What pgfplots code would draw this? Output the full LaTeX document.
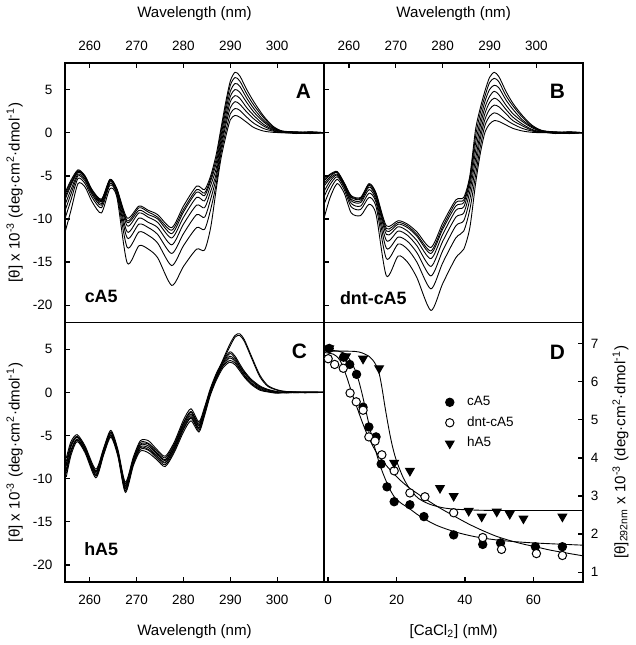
\documentclass[border=0pt]{standalone}
\usepackage{fontspec}
\setmainfont{Liberation Sans}
\usepackage{pgfplots}
\usepackage{pgfplotstable}
\pgfplotsset{compat=1.18}

% panel A: cA5 spectra, one column per titration point
\pgfplotstableread{
x a0 a1 a2 a3 a4 a5 a6 a7
254.7 -7.0 -7.2 -7.5 -7.8 -8.4 -9.1 -10.0 -11.6
256 -5.5 -5.7 -5.9 -6.1 -6.6 -7.1 -7.8 -9.0
257.5 -4.3 -4.4 -4.5 -4.6 -4.8 -5.0 -5.3 -5.9
259 -5.0 -5.1 -5.1 -5.2 -5.4 -5.6 -5.9 -6.3
260.5 -6.6 -6.7 -6.7 -6.9 -7.0 -7.2 -7.5 -8.0
262.5 -7.7 -7.8 -7.9 -8.0 -8.2 -8.4 -8.7 -9.3
264.3 -5.4 -5.5 -5.5 -5.6 -5.7 -5.9 -6.1 -6.5
265.8 -6.5 -6.6 -6.6 -6.7 -6.8 -7.0 -7.2 -7.5
268 -9.9 -10.2 -10.4 -10.8 -11.5 -12.2 -13.3 -15.1
270.5 -8.5 -8.7 -9.0 -9.3 -9.9 -10.6 -11.5 -13.1
272.5 -9.0 -9.2 -9.5 -9.8 -10.4 -11.0 -11.9 -13.5
274.5 -9.5 -9.8 -10.0 -10.4 -11.0 -11.8 -12.8 -14.5
277.5 -11.0 -11.3 -11.7 -12.2 -13.0 -14.0 -15.4 -17.7
280 -8.5 -8.9 -9.2 -9.8 -10.6 -11.7 -13.1 -15.5
282.8 -6.2 -6.6 -6.9 -7.5 -8.4 -9.5 -11.0 -13.5
284.5 -6.6 -7.0 -7.3 -7.9 -8.7 -9.8 -11.2 -13.6
285.8 -5.0 -5.3 -5.6 -6.1 -6.8 -7.7 -8.9 -11.0
287 -2.5 -3.0 -3.5 -4.1 -4.7 -5.2 -5.9 -6.5
288 0.5 0.1 -0.4 -0.9 -1.4 -1.9 -2.4 -3.0
289 3.5 3.0 2.5 1.9 1.3 0.8 0.1 -0.5
290 6.0 5.5 4.8 4.2 3.6 2.9 2.2 1.5
291 7.0 6.4 5.7 5.0 4.3 3.6 2.8 2.0
292 6.6 6.0 5.4 4.7 4.0 3.3 2.6 1.8
293.5 5.0 4.5 4.0 3.5 2.9 2.4 1.8 1.2
295 3.6 3.2 2.8 2.4 2.0 1.6 1.1 0.6
297 2.0 1.8 1.5 1.3 1.0 0.8 0.5 0.2
299 0.8 0.7 0.6 0.5 0.4 0.3 0.2 0.05
301 0.2 0.2 0.15 0.1 0.1 0.05 0.0 0.0
304 0.0 0.1 0.0 -0.1 0.0 0.1 0.0 0.0
307 -0.1 0.0 0.1 0.0 -0.1 0.0 0.1 0.0
310 0.0 0.0 0.0 0.0 0.0 0.0 0.0 0.0
}\tabA

% panel B: dnt-cA5 spectra
\pgfplotstableread{
x b0 b1 b2 b3 b4 b5 b6 b7
254.7 -5.4 -5.6 -5.9 -6.2 -6.8 -7.4 -8.3 -9.9
256 -4.8 -4.9 -5.1 -5.3 -5.6 -6.0 -6.6 -7.5
257.5 -4.5 -4.6 -4.6 -4.8 -4.9 -5.1 -5.4 -5.9
259 -5.8 -5.9 -5.9 -6.0 -6.2 -6.3 -6.6 -7.0
260.5 -7.3 -7.4 -7.5 -7.7 -7.9 -8.2 -8.6 -9.3
262.5 -7.5 -7.6 -7.7 -7.9 -8.1 -8.5 -8.9 -9.6
264.3 -5.9 -6.0 -6.1 -6.3 -6.6 -7.0 -7.5 -8.3
265.8 -7.0 -7.1 -7.3 -7.5 -7.8 -8.1 -8.6 -9.5
268 -10.8 -11.1 -11.4 -11.8 -12.5 -13.4 -14.6 -16.6
270.5 -10.2 -10.4 -10.6 -10.9 -11.4 -12.1 -12.9 -14.3
272.5 -10.6 -10.8 -11.0 -11.4 -11.9 -12.6 -13.5 -15.0
274.5 -11.5 -11.8 -12.0 -12.5 -13.1 -13.9 -15.0 -16.8
277.5 -13.3 -13.7 -14.0 -14.6 -15.5 -16.6 -18.1 -20.6
280 -10.5 -10.9 -11.2 -11.8 -12.6 -13.7 -15.1 -17.5
282.8 -7.8 -8.1 -8.5 -9.0 -9.8 -10.8 -12.2 -14.5
284.5 -7.5 -7.8 -8.1 -8.6 -9.3 -10.2 -11.4 -13.5
285.8 -5.0 -5.3 -5.6 -6.1 -6.8 -7.7 -8.9 -11.0
287 0.3 -0.5 -1.3 -2.2 -3.1 -4.0 -5.0 -6.0
288 2.8 2.2 1.4 0.7 -0.1 -0.8 -1.7 -2.5
289 4.8 4.2 3.6 2.9 2.2 1.5 0.8 0.0
290 6.4 5.8 5.0 4.2 3.5 2.7 1.9 1.0
291 7.0 6.3 5.5 4.8 4.0 3.2 2.3 1.4
292 6.5 5.9 5.2 4.4 3.7 3.0 2.1 1.3
293.5 4.8 4.3 3.8 3.2 2.7 2.2 1.5 0.9
295 3.4 3.1 2.7 2.2 1.8 1.4 1.0 0.5
297 2.0 1.8 1.5 1.3 1.0 0.8 0.5 0.2
299 0.9 0.8 0.7 0.6 0.4 0.3 0.2 0.05
301 0.3 0.25 0.2 0.15 0.1 0.1 0.05 0.0
304 0.0 0.1 0.0 -0.1 0.0 0.1 0.0 0.0
307 -0.1 0.0 0.1 0.0 -0.1 0.0 0.1 0.0
310 0.0 0.0 0.0 0.0 0.0 0.0 0.0 0.0
}\tabB

% panel C: hA5 spectra (c6, c7 = the two high curves)
\pgfplotstableread{
x c0 c1 c2 c3 c4 c5 c6 c7
255 -9.8 -9.4 -8.9 -8.5 -8.0 -7.6 -8.3 -9.1
256 -7.3 -7.0 -6.7 -6.3 -6.0 -5.7 -6.2 -6.8
257.3 -5.7 -5.5 -5.4 -5.2 -5.1 -4.9 -5.1 -5.5
259 -7.0 -6.8 -6.7 -6.5 -6.4 -6.2 -6.4 -6.8
261.3 -9.9 -9.7 -9.5 -9.3 -9.1 -8.9 -9.2 -9.6
263 -7.2 -7.0 -6.9 -6.7 -6.6 -6.4 -6.6 -7.0
264.5 -5.2 -5.0 -4.9 -4.7 -4.6 -4.4 -4.6 -5.0
266 -7.4 -7.2 -7.1 -6.9 -6.8 -6.6 -6.8 -7.2
267.6 -11.6 -11.4 -11.1 -10.9 -10.6 -10.4 -10.8 -11.2
269.3 -8.5 -8.3 -8.1 -7.9 -7.7 -7.5 -7.8 -8.2
270.8 -6.8 -6.6 -6.3 -6.1 -5.8 -5.6 -6.0 -6.4
272.5 -7.0 -6.7 -6.4 -6.2 -5.9 -5.6 -6.0 -6.6
274.3 -7.8 -7.6 -7.3 -7.1 -6.8 -6.6 -7.0 -7.4
276.1 -8.6 -8.4 -8.1 -7.9 -7.6 -7.4 -7.8 -8.2
278 -7.0 -6.8 -6.5 -6.3 -6.0 -5.8 -6.2 -6.6
280 -4.6 -4.3 -4.0 -3.8 -3.5 -3.2 -3.6 -4.2
281.6 -3.3 -3.0 -2.7 -2.5 -2.2 -1.9 -2.3 -2.9
283.3 -4.6 -4.4 -4.1 -3.9 -3.6 -3.4 -3.8 -4.2
284.5 -2.7 -2.5 -2.3 -2.1 -1.9 -1.7 -2.0 -2.4
285.7 -0.4 -0.2 -0.1 0.1 0.2 0.4 0.2 -0.2
287 1.4 1.6 1.7 1.9 2.0 2.2 2.0 1.6
288.5 2.9 3.1 3.2 3.4 3.5 3.7 3.9 3.7
289.9 3.5 3.7 4.0 4.2 4.5 4.7 5.6 5.3
291 3.2 3.4 3.6 3.8 4.0 4.2 6.6 6.4
292 2.5 2.7 2.8 3.0 3.1 3.3 6.8 6.6
293 1.75 1.9 2.0 2.2 2.3 2.45 6.1 5.9
294.5 0.9 1.0 1.1 1.3 1.4 1.5 4.2 4.0
296.3 0.25 0.35 0.45 0.55 0.65 0.75 2.0 1.8
298 0.05 0.1 0.15 0.25 0.3 0.35 0.8 0.7
300 -0.1 -0.05 0 0 0.05 0.1 0.3 0.25
302 0.05 -0.05 0 0.1 0 -0.05 0.1 0.05
306 0 0.05 -0.05 0 0.05 0 0 0
310 0 0 0 0 0 0 0 0
}\tabC

\newcommand{\tk}{\fontsize{6.8}{8}\selectfont}
\newcommand{\lb}{\fontsize{7.6}{9}\selectfont}

\pgfplotsset{
  panel/.style={
    width=130.5pt, height=130.75pt, scale only axis,
    line width=0.9pt,
    tick align=inside, major tick length=2.5pt,
    tick style={line width=0.7pt, black},
    ticklabel style={font=\tk},
    label style={font=\lb},
    /pgf/number format/assume math mode=true,
    cycle list={{black, no markers}},
    every axis plot/.append style={line width=0.45pt, black},
  },
  spec/.style={
    panel, xmin=254.7, xmax=310, ymin=-22, ymax=8.1,
    xtick={260,270,...,300}, ytick={-20,-15,...,5},
    every axis plot/.append style={smooth, tension=0.45},
  },
}

\begin{document}
\begin{tikzpicture}

\begin{axis}[spec, at={(0pt,130.75pt)}, anchor=south west,
  xtick pos=right, xticklabel pos=right, ytick pos=left,
  xticklabel shift=2.5pt, yticklabel shift=2.5pt,
  xlabel={Wavelength (nm)}, xlabel style={yshift=3pt},
  ylabel={[θ] x 10\textsuperscript{-3} (deg·cm\textsuperscript{2}·dmol\textsuperscript{-1})},
  ylabel style={yshift=-2pt}]
\pgfplotsinvokeforeach{a0,a1,a2,a3,a4,a5,a6,a7}{\addplot table[x=x,y=#1]{\tabA};}
\node[font=\bfseries\fontsize{10.5}{12}\selectfont] at (rel axis cs:0.92,0.89) {A};
\node[font=\bfseries\fontsize{9}{11}\selectfont] at (rel axis cs:0.14,0.10) {cA5};
\end{axis}

\begin{axis}[spec, at={(130.5pt,130.75pt)}, anchor=south west,
  xtick pos=right, xticklabel pos=right, ytick pos=left, yticklabels={},
  xticklabel shift=2.5pt,
  xlabel={Wavelength (nm)}, xlabel style={yshift=3pt}]
\pgfplotsinvokeforeach{b0,b1,b2,b3,b4,b5,b6,b7}{\addplot table[x=x,y=#1]{\tabB};}
\node[font=\bfseries\fontsize{10.5}{12}\selectfont] at (rel axis cs:0.90,0.89) {B};
\node[font=\bfseries\fontsize{9}{11}\selectfont] at (rel axis cs:0.19,0.095) {dnt-cA5};
\end{axis}

\begin{axis}[spec, at={(0pt,0pt)}, anchor=south west,
  xtick pos=left, ytick pos=left,
  xticklabel shift=2.5pt, yticklabel shift=2.5pt,
  xlabel={Wavelength (nm)}, xlabel style={yshift=-3pt},
  ylabel={[θ] x 10\textsuperscript{-3} (deg·cm\textsuperscript{2}·dmol\textsuperscript{-1})},
  ylabel style={yshift=-2pt}]
\pgfplotsinvokeforeach{c0,c1,c2,c3,c4,c5,c6,c7}{\addplot table[x=x,y=#1]{\tabC};}
\node[font=\bfseries\fontsize{10.5}{12}\selectfont] at (rel axis cs:0.905,0.89) {C};
\node[font=\bfseries\fontsize{9}{11}\selectfont] at (rel axis cs:0.14,0.126) {hA5};
\end{axis}

\begin{axis}[panel, at={(130.5pt,0pt)}, anchor=south west,
  xmin=-1.2, xmax=74.6, ymin=0.74, ymax=7.55,
  xtick={0,20,40,60}, ytick={1,2,...,7},
  xtick pos=left, ytick pos=right, yticklabel pos=right,
  xticklabel shift=2.5pt, clip=false,
  xlabel={[CaCl\textsubscript{2}] (mM)}, xlabel style={yshift=-3pt},
  ylabel={[θ]\textsubscript{292nm} x 10\textsuperscript{-3} (deg·cm\textsuperscript{2}·dmol\textsuperscript{-1})},
  legend style={draw=none, fill=none, font=\tk, inner sep=0pt,
    at={(axis description cs:0.465,0.735)}, anchor=north west,
    /tikz/every odd column/.append style={column sep=4.5pt}},
  legend cell align=left]
% fitted curves
\addplot[smooth, forget plot] coordinates {(-1,6.82) (0,6.82) (3,6.8) (5,6.72) (6.5,6.55) (8,6.28) (9,6.0) (10,5.65) (11,5.25) (12,4.85) (13,4.48) (14,4.15) (15,3.85) (16,3.6) (17,3.38) (18,3.18) (19.5,2.96) (21.5,2.8) (23.6,2.68) (26,2.52) (28.5,2.38) (32,2.22) (36.7,2.07) (41,1.97) (45,1.9) (50,1.84) (55,1.8) (60,1.77) (67,1.74) (74.6,1.71)};
\addplot[smooth, forget plot] coordinates {(-1,6.76) (0,6.75) (1.5,6.72) (2.5,6.66) (3.5,6.55) (4.5,6.35) (5.5,6.1) (6.4,5.85) (7.3,5.6) (8.2,5.38) (9.1,5.15) (10,4.93) (11,4.7) (12,4.5) (13,4.32) (14,4.16) (15.5,3.97) (17,3.8) (19,3.6) (21,3.42) (23.6,3.22) (26,3.07) (28.5,2.92) (32,2.72) (36.7,2.48) (41,2.27) (45,2.1) (49,1.95) (52.8,1.84) (57,1.74) (60.6,1.67) (65,1.58) (70,1.5) (74.6,1.43)};
\addplot[smooth, forget plot] coordinates {(-1,6.8) (0,6.8) (4,6.8) (8,6.79) (10,6.75) (12,6.66) (13,6.57) (14,6.43) (15,6.18) (15.8,5.8) (16.5,5.4) (17.3,4.98) (18,4.64) (18.8,4.3) (19.7,4.0) (20.7,3.75) (22,3.47) (23.6,3.22) (25,3.06) (26.5,2.93) (28.5,2.83) (30.5,2.76) (34.3,2.68) (40,2.64) (50,2.62) (74.6,2.62)};
% measured points
\addplot[only marks, mark=*, mark size=2.1pt, mark options={fill=black, line width=0.5pt}]
  coordinates {(0.3,6.87) (4.5,6.64) (6.3,6.45) (8.3,6.19) (10.2,5.33) (11.9,4.81) (14.0,4.55) (15.5,3.84) (17.2,3.24) (19.3,2.85) (23.9,2.77) (28.0,2.46) (36.7,1.98) (45.2,1.73) (50.4,1.77) (60.6,1.67) (68.5,1.67)};
\addlegendentry{cA5}
\addplot[only marks, mark=*, mark size=2.1pt, mark options={fill=white, line width=0.5pt}]
  coordinates {(0.0,6.6) (1.9,6.45) (4.4,6.35) (6.4,5.7) (8.2,5.47) (10.2,5.25) (11.9,4.55) (13.7,4.44) (15.7,4.08) (19.3,3.66) (23.9,3.08) (28.3,2.98) (36.7,2.56) (45.2,1.91) (50.7,1.6) (60.9,1.49) (68.5,1.44)};
\addlegendentry{dnt-cA5}
\addplot[only marks, mark=triangle*, mark size=2.5pt, mark options={fill=black, rotate=180, line width=0.5pt}]
  coordinates {(0.3,6.87) (5.2,6.66) (10.2,6.6) (14.9,6.35) (19.3,3.87) (23.9,3.66) (32.7,3.21) (36.7,3.0) (41.1,2.61) (44.9,2.46) (49.3,2.59) (53.1,2.53) (57.1,2.41) (68.5,2.46)};
\addlegendentry{hA5}
\node[font=\bfseries\fontsize{10.5}{12}\selectfont] at (rel axis cs:0.90,0.885) {D};
\end{axis}

\end{tikzpicture}
\end{document}
